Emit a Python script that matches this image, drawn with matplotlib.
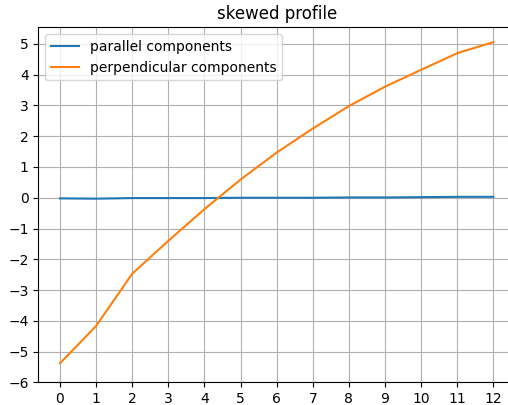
import numpy as np
import matplotlib
matplotlib.use("Agg")
import matplotlib.pyplot as plt

x = list(range(13))
parallel = [-0.02, -0.03, -0.01, -0.01, -0.01, 0.0, 0.0, 0.0, 0.01, 0.01, 0.02, 0.03, 0.03]
perpendicular = [-5.38, -4.17, -2.47, -1.4, -0.37, 0.59, 1.47, 2.25, 2.98, 3.61, 4.16, 4.70, 5.06]

fig = plt.figure(figsize=(5.08, 4.05), dpi=100)
# axes run past the right edge, as in the reference crop
ax = fig.add_axes([0.0754, 0.056, 0.9384, 0.8765])
ax.plot(x, parallel, label='parallel components')
ax.plot(x, perpendicular, label='perpendicular components')
ax.set_title('skewed profile')
ax.set_xticks(np.arange(0, 13, 1))
ax.set_yticks(np.arange(-6, 6, 1))
ax.set_ylim(-6, 5.54)
ax.grid(True)
ax.legend(loc='upper left')

plt.savefig('out.png')
